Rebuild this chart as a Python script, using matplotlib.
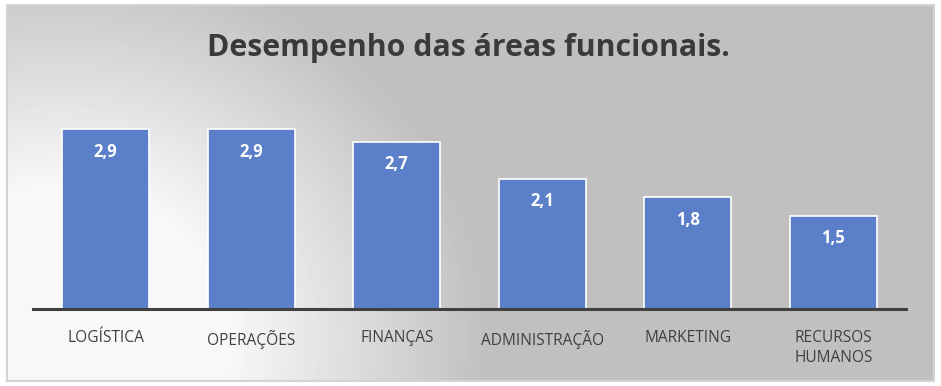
import matplotlib.pyplot as plt
import numpy as np

categorias = ["LOGÍSTICA", "OPERAÇÕES", "FINANÇAS", "ADMINISTRAÇÃO", "MARKETING", "RECURSOS\nHUMANOS"]
valores = [2.9, 2.9, 2.7, 2.1, 1.8, 1.5]
rotulos = ["2,9", "2,9", "2,7", "2,1", "1,8", "1,5"]

W, H = 941, 386
fig = plt.figure(figsize=(W / 100, H / 100), dpi=100)
fig.patch.set_facecolor("white")

# fundo com gradiente radial (claro no canto inferior esquerdo)
bg = fig.add_axes([7 / W, 1 - 381 / H, 927 / W, 376 / H])
yy, xx = np.mgrid[5:381, 7:934]
d = np.hypot(xx - 60, (yy - 340) * 1.1)
t = np.clip((d - 170) / 260, 0, 1)
cor = 0.97 - (0.97 - 0.75) * t
bg.imshow(cor, cmap="gray", vmin=0, vmax=1, aspect="auto", interpolation="bilinear")
bg.set_xticks([])
bg.set_yticks([])
for s in bg.spines.values():
    s.set_color("#d4d4d4")
    s.set_linewidth(1.5)

ax = fig.add_axes([33 / W, 1 - 309 / H, 873 / W, 217 / H])
ax.patch.set_alpha(0)
x = np.arange(len(categorias))
barras = ax.bar(x, valores, width=0.6, color="#5b7fc8", edgecolor="white", linewidth=1.2, zorder=2)
ax.set_xlim(-0.5, len(categorias) - 0.5)
ax.set_ylim(0, 3.5)

for b, r in zip(barras, rotulos):
    ax.text(b.get_x() + b.get_width() / 2, b.get_height() - 0.36, r, ha="center", va="center",
            color="white", fontsize=12, fontweight="bold", family="Open Sans")

for s in ["top", "right", "left"]:
    ax.spines[s].set_visible(False)
ax.spines["bottom"].set_color("#404040")
ax.spines["bottom"].set_linewidth(2.2)
ax.set_yticks([])
ax.set_xticks(x)
ax.set_xticklabels(categorias, fontsize=11.2, color="#404040", family="Open Sans", linespacing=1.35)
ax.tick_params(axis="x", length=0, pad=15)
for lbl in ax.get_xticklabels():
    lbl.set_verticalalignment("top")

fig.text(468 / W, 1 - 48 / H, "Desempenho das áreas funcionais.", ha="center", va="center",
         fontsize=21.8, fontweight="bold", color="#3a3a3a", family="Open Sans")

fig.savefig("out.png", dpi=100)
